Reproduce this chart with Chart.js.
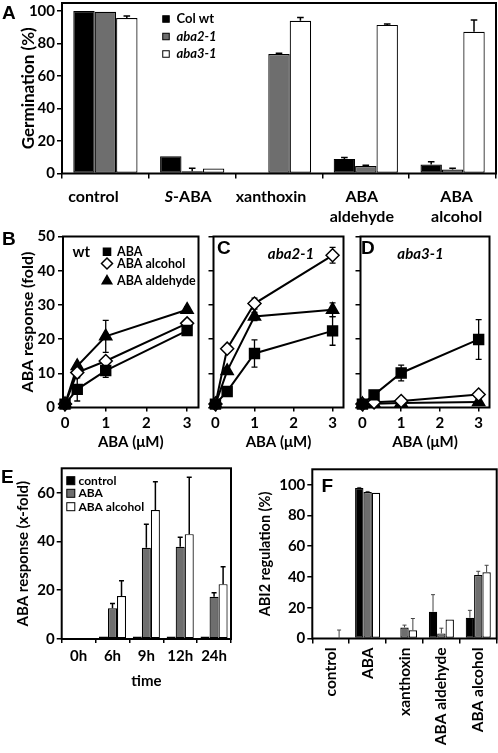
<!DOCTYPE html>
<html><head><meta charset="utf-8">
<script src="https://cdn.jsdelivr.net/npm/chart.js@4.4.0/dist/chart.umd.min.js"></script>
<style>
html,body{margin:0;padding:0;background:#fff;}
#wrap{position:relative;width:498px;height:753px;overflow:hidden;background:#fff;}
canvas{position:absolute;}
</style></head><body><div id="wrap">
<canvas id="cA"></canvas><canvas id="cB"></canvas><canvas id="cC"></canvas><canvas id="cD"></canvas><canvas id="cE"></canvas><canvas id="cF"></canvas>
</div>
<script>
// ================= DATA =================
// Panel A: germination (%)
const germLabels = [["control"], ["S-ABA"], ["xanthoxin"], ["ABA", "aldehyde"], ["ABA", "alcohol"]];
const germSeriesNames = ["Col wt", "aba2-1", "aba3-1"];
const germColWt    = [100, 10.7, 0, 9.0, 5.5];
const germColWtErr = [0, 0, 0, 0.9, 1.7];
const germAba2     = [99.6, 1.4, 73.6, 4.6, 2.5];
const germAba2Err  = [0, 1.8, 0.5, 0.5, 0.7];
const germAba3     = [95.8, 3.1, 94.0, 91.5, 87.3];
const germAba3Err  = [1.2, 0, 2.0, 0.6, 7.3];
const germTicks = [0, 20, 40, 60, 80, 100];

// Panels B-D: ABA response (fold) vs ABA (uM)
const treatNames = ["ABA", "ABA alcohol", "ABA aldehyde"];
const abaDose = [0, 0.3, 1, 3];
const doseTicks = [0, 1, 2, 3];
const foldTicks = [0, 10, 20, 30, 40, 50];
const wtABA = [1, 5.3, 10.8, 22.5];
const wtABAErr = [0, 3.4, 2.0, 0.8];
const wtAlcohol = [1, 10.2, 13.6, 24.6];
const wtAlcoholErr = [0, 1.0, 1.0, 1.0];
const wtAldehyde = [1, 12.1, 20.8, 28.6];
const wtAldehydeErr = [0, 0.8, 4.7, 0.8];
const aba2ABA = [1, 4.7, 15.8, 22.4];
const aba2ABAErr = [0, 0.5, 4.0, 4.2];
const aba2Alcohol = [1, 17.2, 30.4, 44.5];
const aba2AlcoholErr = [0, 0.8, 1.6, 2.3];
const aba2Aldehyde = [1, 10.7, 26.6, 28.6];
const aba2AldehydeErr = [0, 1.0, 1.2, 2.0];
const aba3ABA = [1, 3.7, 10.1, 19.9];
const aba3ABAErr = [0, 0.8, 2.3, 5.8];
const aba3Alcohol = [1, 1.5, 1.9, 3.8];
const aba3AlcoholErr = [0, 0.4, 0.6, 0.6];
const aba3Aldehyde = [1, 1.1, 1.3, 1.6];
const aba3AldehydeErr = [0, 0.3, 0.3, 0.4];

// Panel E: ABA response (x-fold) over time
const timeLabels = ["0h", "6h", "9h", "12h", "24h"];
const timeSeriesNames = ["control", "ABA", "ABA alcohol"];
const timeControl = [0, 1, 1, 1, 1];
const timeABA = [0, 12.6, 37.4, 37.8, 17.3];
const timeABAErr = [0, 2.0, 9.7, 3.9, 1.7];
const timeAlcohol = [0, 17.6, 52.9, 43.0, 22.5];
const timeAlcoholErr = [0, 6.3, 11.6, 23.3, 7.1];
const timeTicks = [0, 20, 40, 60];

// Panel F: ABI2 regulation (%)
const abiLabels = ["control", "ABA", "xanthoxin", "ABA aldehyde", "ABA alcohol"];
const abiColWt = [0, 97.8, 0.5, 17.4, 13.5];
const abiColWtErr = [0, 0.4, 0, 11.1, 4.8];
const abiAba2 = [0.5, 95.2, 7.2, 3.3, 41.3];
const abiAba2Err = [0, 0.4, 1.5, 3.4, 2.4];
const abiAba3 = [0, 94.8, 5.4, 12.4, 43.0];
const abiAba3Err = [5.5, 0, 7.6, 0, 4.6];
const abiTicks = [0, 20, 40, 60, 80, 100];

// ================= STYLE / PLUGINS =================
const FF = 'Lato, "Liberation Sans", sans-serif';
const GRAY = '#6e6e6e';

function place(id, x, y, w, h) {
  const c = document.getElementById(id);
  c.width = w; c.height = h;
  c.style.left = x + 'px'; c.style.top = y + 'px';
  c.style.width = w + 'px'; c.style.height = h + 'px';
  return c;
}
function fitTo(size, horizontal) {
  return function (scale) {
    if (horizontal) scale.height = size; else scale.width = size;
    scale.paddingLeft = 0; scale.paddingRight = 0; scale.paddingTop = 0; scale.paddingBottom = 0;
  };
}
function fixTicks(values) {
  return function (scale) { scale.ticks = values.map(v => ({ value: v })); };
}

const framePlugin = {
  id: 'frame',
  beforeDatasetsDraw(chart) {
    const a = chart.chartArea, ctx = chart.ctx;
    ctx.save(); ctx.strokeStyle = '#000'; ctx.lineWidth = 2;
    ctx.strokeRect(a.left, a.top, a.right - a.left, a.bottom - a.top);
    ctx.restore();
  }
};

function drawErrors(chart, behind) {
  const ctx = chart.ctx, yS = chart.scales.y;
  chart.data.datasets.forEach((ds, i) => {
    if (!ds.errors || !!ds.errorsBehind !== behind) return;
    const meta = chart.getDatasetMeta(i);
    ctx.save();
    ctx.strokeStyle = ds.errorColor || '#000';
    ctx.lineWidth = ds.errorWidth || 1.5;
    const cap = ds.errorCap || 3;
    meta.data.forEach((el, j) => {
      const e = ds.errors[j];
      if (!e) return;
      const v = meta.controller.getParsed(j).y;
      const x = el.x;
      const yHi = yS.getPixelForValue(v + e);
      const yLo = ds.errorBoth ? yS.getPixelForValue(v - e) : yS.getPixelForValue(v);
      ctx.beginPath();
      ctx.moveTo(x, yLo); ctx.lineTo(x, yHi);
      ctx.moveTo(x - cap, yHi); ctx.lineTo(x + cap, yHi);
      if (ds.errorBoth) { ctx.moveTo(x - cap, yLo); ctx.lineTo(x + cap, yLo); }
      ctx.stroke();
    });
    ctx.restore();
  });
}
const errorPlugin = {
  id: 'errbars',
  beforeDatasetsDraw(chart) { drawErrors(chart, true); },
  afterDatasetsDraw(chart) { drawErrors(chart, false); }
};

const textPlugin = {
  id: 'texts',
  afterDraw(chart, args, o) {
    if (!o || !o.items) return;
    const ctx = chart.ctx;
    o.items.forEach(t => {
      ctx.save();
      ctx.font = t.font; ctx.fillStyle = '#000';
      ctx.textAlign = t.align || 'left'; ctx.textBaseline = t.baseline || 'middle';
      ctx.fillText(t.text, t.x, t.y);
      ctx.restore();
    });
  }
};

const innerLegend = {
  id: 'innerLegend',
  afterDraw(chart, args, o) {
    if (!o || !o.rows) return;
    const ctx = chart.ctx;
    chart.data.datasets.forEach((ds, i) => {
      const y = o.rows[i];
      ctx.save();
      ctx.strokeStyle = '#000';
      if (o.kind === 'bar') {
        const s = o.size;
        ctx.fillStyle = ds.backgroundColor; ctx.lineWidth = 1;
        ctx.fillRect(o.mx - s / 2, y - s / 2, s, s);
        ctx.strokeRect(o.mx - s / 2, y - s / 2, s, s);
      } else {
        ctx.fillStyle = ds.pointBackgroundColor; ctx.lineWidth = 1.5;
        Chart.helpers.drawPoint(ctx, { pointStyle: ds.pointStyle, radius: o.sizes[i], rotation: 0, borderWidth: 1.5 }, o.mx, y);
      }
      ctx.fillStyle = '#000';
      ctx.font = (ds.italicLabel ? 'italic ' : '') + o.font;
      ctx.textAlign = 'left'; ctx.textBaseline = 'middle';
      ctx.fillText(ds.label, o.tx, y);
      ctx.restore();
    });
  }
};

const catLabelPlugin = {
  id: 'catLabels',
  afterDraw(chart, args, o) {
    if (!o || !o.baselines) return;
    const ctx = chart.ctx, xS = chart.scales.x;
    chart.data.labels.forEach((lines, i) => {
      const cx = xS.getPixelForValue(i) + (o.shifts ? o.shifts[i] : 0);
      lines.forEach((line, k) => {
        const y = o.baselines[k];
        ctx.save();
        ctx.fillStyle = '#000'; ctx.textBaseline = 'alphabetic';
        const pre = (k === 0 && o.italicPrefix) ? o.italicPrefix[i] : '';
        if (pre && line.startsWith(pre)) {
          const rest = line.slice(pre.length);
          ctx.font = 'italic ' + o.font; const w1 = ctx.measureText(pre).width;
          ctx.font = o.font; const w2 = ctx.measureText(rest).width;
          const x0 = cx - (w1 + w2) / 2;
          ctx.textAlign = 'left';
          ctx.font = 'italic ' + o.font; ctx.fillText(pre, x0, y);
          ctx.font = o.font; ctx.fillText(rest, x0 + w1, y);
        } else {
          ctx.font = o.font; ctx.textAlign = 'center';
          ctx.fillText(line, cx, y);
        }
        ctx.restore();
      });
    });
  }
};

Chart.register(framePlugin, errorPlugin, textPlugin, innerLegend, catLabelPlugin);
Chart.defaults.font.family = FF;
Chart.defaults.color = '#000';
Chart.defaults.animation = false;

function tickGrid(len) {
  return { display: true, drawOnChartArea: false, drawTicks: true, tickLength: len, color: '#000', lineWidth: 1.5 };
}
const basePlugins = { legend: { display: false }, tooltip: { enabled: false } };

// ================= PANEL A =================
(function () {
  const W = 498, H = 230;
  place('cA', 0, 0, W, H);
  new Chart(document.getElementById('cA'), {
    type: 'bar',
    data: {
      labels: germLabels,
      datasets: [
        { label: germSeriesNames[0], data: germColWt, errors: germColWtErr, backgroundColor: '#000' },
        { label: germSeriesNames[1], data: germAba2, errors: germAba2Err, backgroundColor: GRAY, italicLabel: true },
        { label: germSeriesNames[2], data: germAba3, errors: germAba3Err, backgroundColor: '#fff', italicLabel: true }
      ].map(d => Object.assign(d, { borderColor: '#000', borderWidth: 1.2, borderSkipped: false, categoryPercentage: 0.74, barPercentage: 1, errorCap: 3.3, errorWidth: 1.5 }))
    },
    options: {
      responsive: false, devicePixelRatio: 1,
      layout: { padding: { left: 0, top: 3, right: 2, bottom: 0 } },
      scales: {
        x: { grid: tickGrid(5), border: { display: false }, ticks: { display: false }, afterFit: fitTo(H - 173.5, true) },
        y: { min: 0, max: 105, grid: tickGrid(5), border: { display: false },
             ticks: { font: { size: 15, weight: 'bold' }, padding: 2 },
             afterBuildTicks: fixTicks(germTicks),
             title: { display: true, text: 'Germination (%)', font: { size: 17, weight: 'bold' }, padding: { top: 18, bottom: 0 } },
             afterFit: fitTo(62, false) }
      },
      plugins: Object.assign({}, basePlugins, {
        catLabels: { baselines: [201.5, 221.5], font: 'bold 16px ' + FF, italicPrefix: ['', 'S', '', '', ''], shifts: [-12, -4, -8, -4, 4] },
        innerLegend: { kind: 'bar', rows: [19, 36.5, 54], mx: 166, size: 6.5, tx: 176.5, font: 'bold 13px ' + FF },
        texts: { items: [{ text: 'A', x: 2, y: 14, font: 'bold 19px "Liberation Sans", Arial, sans-serif' }] }
      })
    }
  });
})();

// ================= PANELS B-D =================
function doseChart(id, cx, cy, W, H, L, R, ys, errs, showY, extraTexts, legendOpts) {
  place(id, cx, cy, W, H);
  const T = 236.5 - cy, B = 407.5 - cy;
  const styles = [['rect', '#000', 7], ['rectRot', '#fff', 6.5], ['triangle', '#000', 7]];
  const datasets = ys.map((arr, i) => ({
    label: treatNames[i],
    data: abaDose.map((x, k) => ({ x: x, y: arr[k] })),
    errors: errs[i], errorBoth: true, errorsBehind: true, errorCap: 3, errorWidth: 1.3,
    showLine: true, borderColor: '#000', borderWidth: 2, tension: 0,
    pointStyle: styles[i][0], pointBackgroundColor: styles[i][1], pointBorderColor: '#000',
    pointBorderWidth: 1.5, pointRadius: styles[i][2], clip: false
  }));
  const plugins = Object.assign({}, basePlugins, { texts: { items: extraTexts } });
  if (legendOpts) plugins.innerLegend = legendOpts;
  new Chart(document.getElementById(id), {
    type: 'scatter',
    data: { datasets },
    options: {
      responsive: false, devicePixelRatio: 1,
      layout: { padding: { left: 0, top: T, right: W - R, bottom: 0 } },
      scales: {
        x: { type: 'linear', min: -0.05, max: 3.28, grid: tickGrid(4), border: { display: false },
             ticks: { font: { size: 15, weight: 'bold' }, padding: 3 },
             afterBuildTicks: fixTicks(doseTicks),
             title: { display: true, text: 'ABA (μM)', font: { size: 15, weight: 'bold' }, padding: { top: 0, bottom: 2 } },
             afterFit: fitTo(H - B, true) },
        y: { min: 0, max: 50, grid: tickGrid(5), border: { display: false },
             ticks: { display: showY, font: { size: 15, weight: 'bold' }, padding: 3 },
             afterBuildTicks: fixTicks(foldTicks),
             title: { display: showY, text: 'ABA response (fold)', font: { size: 16, weight: 'bold' }, padding: { top: 18, bottom: 0 } },
             afterFit: fitTo(L, false) }
      },
      plugins
    }
  });
}
doseChart('cB', 0, 225, 207, 228, 63, 199,
  [wtABA, wtAlcohol, wtAldehyde], [wtABAErr, wtAlcoholErr, wtAldehydeErr], true,
  [{ text: 'B', x: 2, y: 15, font: 'bold 19px "Liberation Sans", Arial, sans-serif' },
   { text: 'wt', x: 72.5, y: 27, font: 'bold 15px ' + FF }],
  { kind: 'point', rows: [26.7, 38.5, 56], sizes: [5, 5.5, 5.5], mx: 107, tx: 117, font: 'bold 12.5px ' + FF });
doseChart('cC', 205, 225, 147, 228, 7, 143,
  [aba2ABA, aba2Alcohol, aba2Aldehyde], [aba2ABAErr, aba2AlcoholErr, aba2AldehydeErr], false,
  [{ text: 'C', x: 12, y: 24, font: 'bold 19px "Liberation Sans", Arial, sans-serif' },
   { text: 'aba2-1', x: 86, y: 29, align: 'center', font: 'italic bold 15px ' + FF }], null);
doseChart('cD', 352, 225, 146, 228, 7, 144.5,
  [aba3ABA, aba3Alcohol, aba3Aldehyde], [aba3ABAErr, aba3AlcoholErr, aba3AldehydeErr], false,
  [{ text: 'D', x: 9, y: 24, font: 'bold 19px "Liberation Sans", Arial, sans-serif' },
   { text: 'aba3-1', x: 68.5, y: 29.5, align: 'center', font: 'italic bold 15px ' + FF }], null);

// ================= PANEL E =================
(function () {
  const cx = 0, cy = 455, W = 250, H = 245;
  place('cE', cx, cy, W, H);
  const colors = ['#000', GRAY, '#fff'];
  new Chart(document.getElementById('cE'), {
    type: 'bar',
    data: {
      labels: timeLabels,
      datasets: [
        { label: timeSeriesNames[0], data: timeControl },
        { label: timeSeriesNames[1], data: timeABA, errors: timeABAErr },
        { label: timeSeriesNames[2], data: timeAlcohol, errors: timeAlcoholErr }
      ].map((d, i) => Object.assign(d, { backgroundColor: colors[i], borderColor: '#000', borderWidth: 1.2, borderSkipped: false, categoryPercentage: 0.8, barPercentage: 1, errorCap: 2.5, errorWidth: 1.5 }))
    },
    options: {
      responsive: false, devicePixelRatio: 1,
      layout: { padding: { left: 0, top: 468.3 - cy, right: W - 231, bottom: 0 } },
      scales: {
        x: { grid: tickGrid(4), border: { display: false },
             ticks: { font: { size: 15, weight: 'bold' }, padding: 4 },
             title: { display: true, text: 'time', font: { size: 15, weight: 'bold' }, padding: { top: 0, bottom: 10 } },
             afterFit: fitTo(H - (639 - cy), true) },
        y: { min: 0, max: 70, grid: tickGrid(5), border: { display: false },
             ticks: { font: { size: 15, weight: 'bold' }, padding: 2 },
             afterBuildTicks: fixTicks(timeTicks),
             title: { display: true, text: 'ABA response (x-fold)', font: { size: 15, weight: 'bold' }, padding: { top: 14, bottom: 0 } },
             afterFit: fitTo(61.7, false) }
      },
      plugins: Object.assign({}, basePlugins, {
        innerLegend: { kind: 'bar', rows: [25.7, 38.3, 51.7], mx: 70.8, size: 8, tx: 78.5, font: 'bold 12px ' + FF },
        texts: { items: [{ text: 'E', x: 1, y: 23, font: 'bold 19px "Liberation Sans", Arial, sans-serif' }] }
      })
    }
  });
})();

// ================= PANEL F =================
(function () {
  const cx = 250, cy = 455, W = 248, H = 298;
  place('cF', cx, cy, W, H);
  const colors = ['#000', GRAY, '#fff'];
  new Chart(document.getElementById('cF'), {
    type: 'bar',
    data: {
      labels: abiLabels,
      datasets: [
        { label: germSeriesNames[0], data: abiColWt, errors: abiColWtErr },
        { label: germSeriesNames[1], data: abiAba2, errors: abiAba2Err },
        { label: germSeriesNames[2], data: abiAba3, errors: abiAba3Err }
      ].map((d, i) => Object.assign(d, { backgroundColor: colors[i], borderColor: '#000', borderWidth: 1.2, borderSkipped: false, categoryPercentage: 0.68, barPercentage: 1, errorCap: 2, errorWidth: 1, errorColor: '#444' }))
    },
    options: {
      responsive: false, devicePixelRatio: 1,
      layout: { padding: { left: 0, top: 469.3 - cy, right: W - 246.7, bottom: 0 } },
      scales: {
        x: { grid: tickGrid(5), border: { display: false },
             ticks: { font: { size: 15.5, weight: 'bold' }, padding: 4, minRotation: 90, maxRotation: 90, autoSkip: false },
             afterFit: fitTo(H - (638.5 - cy), true) },
        y: { min: 0, max: 110, grid: tickGrid(5), border: { display: false },
             ticks: { font: { size: 15, weight: 'bold' }, padding: 2 },
             afterBuildTicks: fixTicks(abiTicks),
             title: { display: true, text: 'ABI2 regulation (%)', font: { size: 14.5, weight: 'bold' }, padding: { top: 7, bottom: 0 } },
             afterFit: fitTo(62.3, false) }
      },
      plugins: Object.assign({}, basePlugins, {
        texts: { items: [{ text: 'F', x: 71.5, y: 31.5, font: 'bold 19px "Liberation Sans", Arial, sans-serif' }] }
      })
    }
  });
})();
</script>
</body></html>
